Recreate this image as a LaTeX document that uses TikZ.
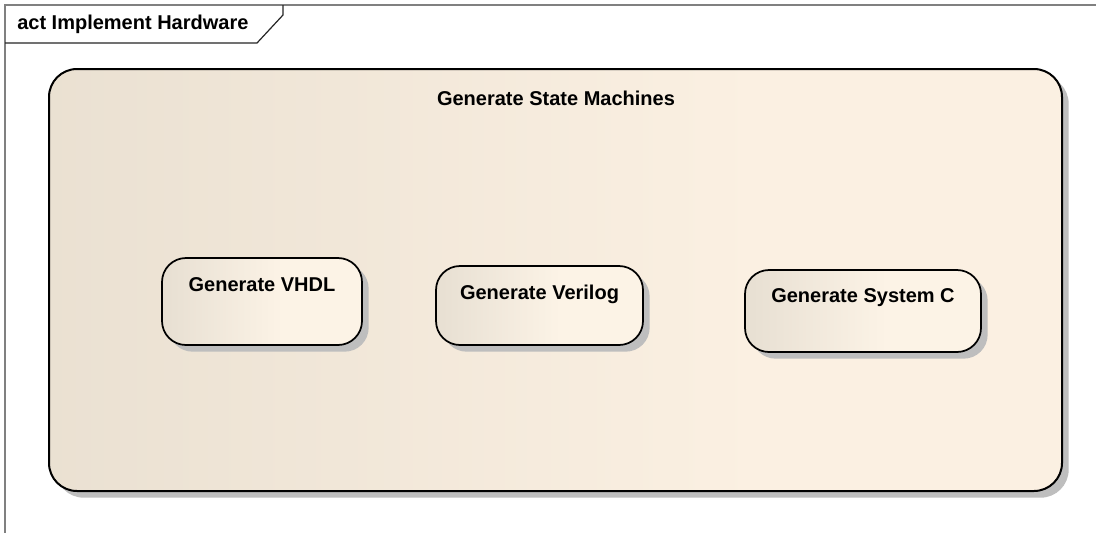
\documentclass[tikz,border=0pt]{standalone}
\usepackage{fontspec}
\setmainfont{Liberation Sans}
\usetikzlibrary{shadows}
\definecolor{contL}{RGB}{227,218,203}
\definecolor{contR}{RGB}{251,240,226}
\definecolor{actL}{RGB}{231,223,210}
\definecolor{actR}{RGB}{252,243,230}
\definecolor{frameline}{RGB}{128,128,128}
\definecolor{shadowgray}{RGB}{190,190,190}
\pgfdeclarehorizontalshading{contshade}{100bp}{color(0bp)=(contL); color(25bp)=(contL!70!contR); color(60bp)=(contR); color(100bp)=(contR)}
\pgfdeclarehorizontalshading{actshade}{100bp}{color(0bp)=(actL); color(25bp)=(actL); color(55bp)=(actR); color(100bp)=(actR)}
\tikzset{
  lbl/.style={font=\fontsize{15}{17}\selectfont\bfseries, text=black, inner sep=0pt},
  container/.style={draw=black, line width=1.5pt, rounded corners=21pt, shading=contshade,
    drop shadow={shadow xshift=5pt, shadow yshift=-5pt, fill=shadowgray, opacity=1},
    minimum width=759.75pt, minimum height=316.5pt, inner sep=0pt},
  action/.style={draw=black, line width=1.3pt, rounded corners=18pt, shading=actshade,
    drop shadow={shadow xshift=5pt, shadow yshift=-5pt, fill=shadowgray, opacity=1},
    inner sep=0pt},
  frameedge/.style={draw=frameline, line width=0.9pt},
  tabedge/.style={draw=black!85, line width=0.9pt}
}
\begin{document}
\begin{tikzpicture}[x=0.75pt, y=-0.75pt]
\useasboundingbox (0,0) rectangle (1096,533);
\fill[white] (0,0) rectangle (1096,533);

% diagram frame and its name tab
\coordinate (fTL) at (5,5);
\coordinate (fTR) at (1096,5);
\coordinate (fBL) at (5,533);
\draw[frameedge] (fTR) -- (fTL) -- (fBL);
\coordinate (tA) at (283,5);
\coordinate (tB) at (283,15);
\coordinate (tC) at (257,43);
\coordinate (tD) at (5,43);
\draw[tabedge] (tA) -- (tB) -- (tC) -- (tD);
\node[lbl, anchor=west] (frametitle) at (17,24) {act Implement Hardware};

% structured activity
\node[container] (gsm) at (555.5,280) {};
\node[lbl] (gsmtitle) at (556,98) {Generate State Machines};

% actions
\node[action, minimum width=150pt, minimum height=65.25pt] (vhdl) at (262,301.5) {};
\node[lbl] (vhdltxt) at (262,285) {Generate VHDL};

\node[action, minimum width=155.25pt, minimum height=59.25pt] (verilog) at (539.5,305.5) {};
\node[lbl] (verilogtxt) at (539.5,294) {Generate Verilog};

\node[action, minimum width=177pt, minimum height=61.5pt] (sysc) at (863,311) {};
\node[lbl] (sysctxt) at (863,298) {Generate System C};
\end{tikzpicture}
\end{document}
